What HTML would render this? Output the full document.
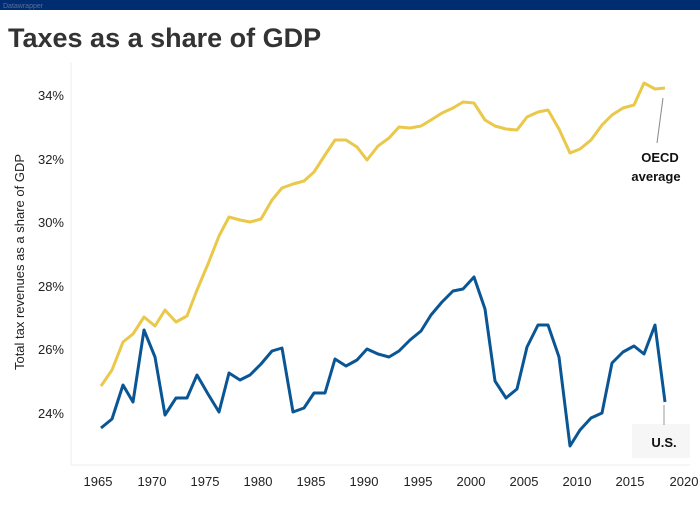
<!DOCTYPE html>
<html><head><style>
body{margin:0;width:700px;height:500px;background:#fff;font-family:"Liberation Sans",sans-serif;overflow:hidden}
</style></head><body>
<svg width="700" height="500" xmlns="http://www.w3.org/2000/svg" font-family="Liberation Sans, sans-serif">
<rect x="0" y="0" width="700" height="10" fill="#002d72"/>
<text x="3" y="8" font-size="7" fill="#5a6f9a">Datawrapper</text>
<text x="8" y="47" font-size="27" font-weight="bold" fill="#333">Taxes as a share of GDP</text>
<line x1="71" y1="62" x2="71" y2="465" stroke="#eee"/>
<line x1="71" y1="465" x2="690" y2="465" stroke="#eee"/>
<g font-size="13" fill="#222" text-anchor="end">
<text x="64" y="100">34%</text><text x="64" y="164">32%</text><text x="64" y="227">30%</text>
<text x="64" y="291">28%</text><text x="64" y="354">26%</text><text x="64" y="418">24%</text>
</g>
<g font-size="13" fill="#222" text-anchor="middle">
<text x="98" y="486">1965</text><text x="152" y="486">1970</text><text x="205" y="486">1975</text>
<text x="258" y="486">1980</text><text x="311" y="486">1985</text><text x="364" y="486">1990</text>
<text x="418" y="486">1995</text><text x="471" y="486">2000</text><text x="524" y="486">2005</text>
<text x="577" y="486">2010</text><text x="630" y="486">2015</text><text x="684" y="486">2020</text>
</g>
<text transform="translate(24,262) rotate(-90)" font-size="13" fill="#222" text-anchor="middle">Total tax revenues as a share of GDP</text>
<polyline fill="none" stroke="#e9c84a" stroke-width="3" stroke-linejoin="round" points="101,386 112,370 123,342 133,334 144,317 155,326 165,310 176,322 187,316 197,290 208,264 219,236 229,217 240,220 250,222 261,219 272,200 282,188 293,184 304,181 314,172 325,155 335,140 346,140 357,147 367,160 378,146 389,138 399,127 410,128 421,126 431,120 442,113 453,108 463,102 474,103 485,120 495,126 506,129 517,130 527,117 538,112 548,110 559,129 570,153 580,149 591,140 602,125 612,115 623,108 634,105 644,83 655,89 665,88"/>
<polyline fill="none" stroke="#0a5694" stroke-width="3" stroke-linejoin="round" points="101,428 112,419 123,385 133,402 144,330 155,357 165,415 176,398 187,398 197,375 208,394 219,412 229,373 240,380 250,375 261,364 272,351 282,348 293,412 304,408 314,393 325,393 335,359 346,366 357,360 367,349 378,354 389,357 399,351 410,340 421,331 431,315 442,302 453,291 463,289 474,277 485,309 495,381 506,398 517,389 527,347 538,325 548,325 559,357 570,446 580,430 591,418 602,413 612,363 623,352 634,346 644,354 655,325 665,402"/>
<line x1="663" y1="98" x2="657" y2="143" stroke="#888" stroke-width="1"/>
<text x="660" y="162" font-size="13" font-weight="bold" fill="#111" text-anchor="middle">OECD</text>
<text x="656" y="181" font-size="13" font-weight="bold" fill="#111" text-anchor="middle">average</text>
<rect x="632" y="424" width="58" height="34" fill="#f6f6f6"/>
<line x1="664" y1="405" x2="664" y2="425" stroke="#999"/>
<text x="664" y="447" font-size="13" font-weight="bold" fill="#111" text-anchor="middle">U.S.</text>
</svg>
</body></html>
